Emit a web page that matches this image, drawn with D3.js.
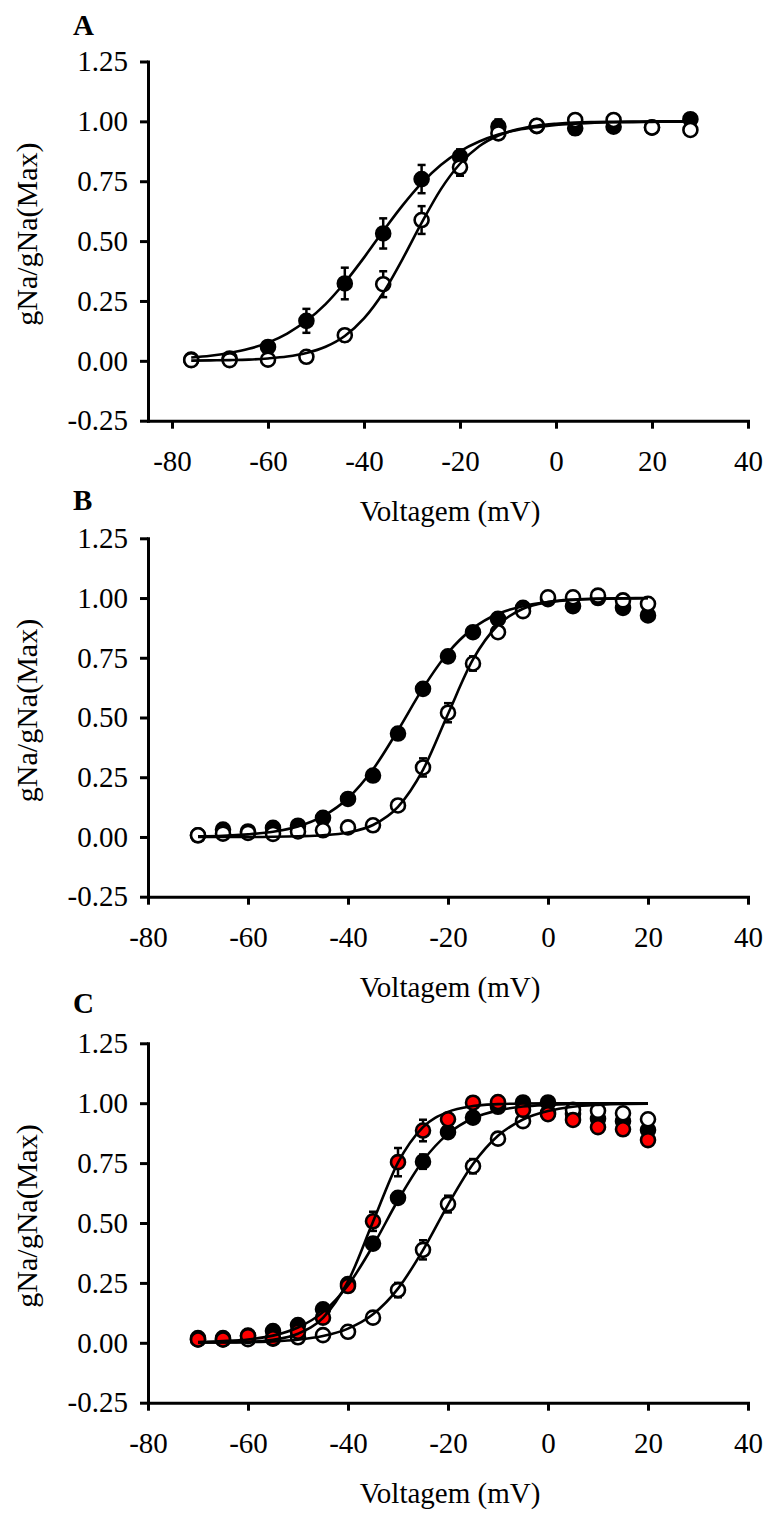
<!DOCTYPE html>
<html>
<head>
<meta charset="utf-8">
<script src="https://cdn.jsdelivr.net/npm/d3@7"></script>
<style>
  body { margin: 0; background: #fff; }
  svg { display: block; }
  .axis text { font-family: "Liberation Serif", "Times New Roman", serif; font-size: 29px; fill: #000; }
  .axis path, .axis line { stroke: #000; stroke-width: 3; }
  .axis path { stroke-linecap: square; }
  .lbl { font-family: "Liberation Serif", "Times New Roman", serif; fill: #000; }
</style>
</head>
<body>
<svg id="chart" width="767" height="1513"></svg>
<script>
// ---- data ----
var yTicks = [-0.25, 0, 0.25, 0.5, 0.75, 1, 1.25];
var xTicks = [-80, -60, -40, -20, 0, 20, 40];

// panel A (8 mV steps)
var voltA = [-76, -68, -60, -52, -44, -36, -28, -20, -12, -4, 4, 12, 20, 28];
var aFilled    = [0.005, 0.010, 0.058, 0.167, 0.323, 0.532, 0.759, 0.853, 0.978, 0.980, 0.971, 0.978, 0.975, 1.009];
var aFilledErr = [0, 0, 0.010, 0.050, 0.066, 0.063, 0.059, 0.030, 0.030, 0.020, 0.025, 0.020, 0.010, 0.010];
var aOpen      = [0.003, 0.003, 0.005, 0.017, 0.107, 0.320, 0.588, 0.808, 0.950, 0.982, 1.006, 1.006, 0.974, 0.964];
var aOpenErr   = [0, 0, 0, 0.010, 0.025, 0.054, 0.058, 0.035, 0.020, 0.020, 0.010, 0.010, 0.005, 0.005];

// fitted curves, panel A
var fitVoltA = [-76, -72, -68, -64, -60, -56, -52, -48, -44, -40, -36, -32, -28, -24, -20, -16, -12, -8, -4, 0, 4, 8, 12, 16, 20, 24, 28];
var fitAFilled = [0.014, 0.021, 0.033, 0.050, 0.076, 0.114, 0.167, 0.237, 0.327, 0.431, 0.542, 0.648, 0.742, 0.818, 0.875, 0.916, 0.945, 0.964, 0.976, 0.985, 0.990, 0.994, 0.996, 0.997, 0.998, 0.999, 0.999];
var fitAOpen   = [0.001, 0.002, 0.003, 0.005, 0.010, 0.018, 0.033, 0.059, 0.104, 0.177, 0.284, 0.424, 0.576, 0.716, 0.823, 0.896, 0.941, 0.967, 0.982, 0.990, 0.995, 0.997, 0.998, 0.999, 1.000, 1.000, 1.000];

// panels B and C (5 mV steps)
var voltBC = [-70, -65, -60, -55, -50, -45, -40, -35, -30, -25, -20, -15, -10, -5, 0, 5, 10, 15, 20];
var bFilled    = [0.007, 0.031, 0.023, 0.038, 0.047, 0.080, 0.159, 0.257, 0.433, 0.620, 0.756, 0.857, 0.913, 0.959, 0.995, 0.966, 1.000, 0.959, 0.927];
var bFilledErr = [0, 0, 0, 0, 0, 0.010, 0.010, 0.010, 0.015, 0.015, 0.015, 0.015, 0.010, 0.010, 0.010, 0.020, 0.010, 0.010, 0.010];
var bOpen      = [0.007, 0.014, 0.017, 0.013, 0.023, 0.028, 0.040, 0.049, 0.132, 0.291, 0.520, 0.726, 0.857, 0.945, 1.003, 1.003, 1.010, 0.990, 0.976];
var bOpenErr   = [0, 0, 0, 0, 0, 0, 0, 0, 0.010, 0.038, 0.040, 0.030, 0.015, 0.010, 0.010, 0.010, 0.005, 0.010, 0.005];

var cFilled    = [0.020, 0.020, 0.030, 0.049, 0.074, 0.140, 0.245, 0.414, 0.605, 0.756, 0.879, 0.940, 0.985, 1.003, 1.003, 0.955, 0.935, 0.925, 0.888];
var cFilledErr = [0, 0, 0, 0, 0.010, 0.015, 0.015, 0.020, 0.015, 0.030, 0.015, 0.010, 0.010, 0.010, 0.010, 0.010, 0.010, 0.010, 0.010];
var cOpen      = [0.014, 0.014, 0.015, 0.017, 0.023, 0.032, 0.046, 0.105, 0.220, 0.388, 0.579, 0.737, 0.852, 0.925, 0.960, 0.972, 0.968, 0.958, 0.933];
var cOpenErr   = [0, 0, 0, 0, 0, 0, 0.010, 0.010, 0.030, 0.040, 0.035, 0.030, 0.010, 0.010, 0.010, 0.010, 0.010, 0.010, 0.010];
var cRed       = [0.014, 0.014, 0.028, 0.019, 0.046, 0.105, 0.237, 0.507, 0.754, 0.886, 0.933, 1.002, 1.005, 0.972, 0.954, 0.930, 0.900, 0.891, 0.846];
var cRedErr    = [0, 0, 0, 0, 0, 0.010, 0.020, 0.040, 0.059, 0.045, 0.020, 0.010, 0.010, 0.010, 0.010, 0.010, 0.010, 0.010, 0.010];

// fitted curves, panels B and C
var fitVoltBC = [-70, -65, -60, -55, -50, -45, -40, -35, -30, -25, -20, -15, -10, -5, 0, 5, 10, 15, 20];
var fitBFilled = [0.003, 0.005, 0.011, 0.022, 0.044, 0.087, 0.162, 0.283, 0.447, 0.623, 0.771, 0.873, 0.934, 0.966, 0.983, 0.992, 0.996, 0.998, 0.999];
var fitBOpen   = [0.000, 0.000, 0.000, 0.001, 0.003, 0.007, 0.019, 0.050, 0.126, 0.281, 0.515, 0.743, 0.887, 0.955, 0.983, 0.994, 0.998, 0.999, 1.000];
var fitCFilled = [0.003, 0.007, 0.014, 0.030, 0.064, 0.128, 0.240, 0.405, 0.595, 0.760, 0.872, 0.937, 0.970, 0.986, 0.993, 0.997, 0.999, 0.999, 1.000];
var fitCOpen   = [0.001, 0.001, 0.003, 0.006, 0.013, 0.028, 0.059, 0.119, 0.226, 0.387, 0.576, 0.746, 0.864, 0.932, 0.967, 0.985, 0.993, 0.997, 0.998];
var fitCRed    = [0.001, 0.002, 0.004, 0.013, 0.038, 0.104, 0.256, 0.505, 0.752, 0.900, 0.964, 0.988, 0.996, 0.999, 1.000, 1.000, 1.000, 1.000, 1.000];

var svg = d3.select("#chart");

function drawPanel(p) {
  var g = svg.append("g");
  var x = d3.scaleLinear().domain(p.xDomain).range([148, 748]);
  var y = d3.scaleLinear().domain([-0.25, 1.25]).range([p.bottom, p.top]);

  // y axis
  g.append("g")
      .attr("class", "axis")
      .attr("transform", "translate(148,0)")
      .call(d3.axisLeft(y).tickValues(yTicks).tickFormat(d => d.toFixed(2))
        .tickSize(8).tickSizeOuter(0).tickPadding(12));

  // x axis
  g.append("g")
      .attr("class", "axis")
      .attr("transform", "translate(0," + p.bottom + ")")
      .call(d3.axisBottom(x).tickValues(xTicks).tickFormat(d => String(d))
        .tickSize(8).tickSizeOuter(0).tickPadding(22));

  // axis titles + panel letter
  g.append("text")
      .attr("class", "lbl")
      .attr("x", 450)
      .attr("y", p.bottom + 100)
      .attr("text-anchor", "middle")
      .attr("font-size", 29)
      .text("Voltagem (mV)");

  g.append("text")
      .attr("class", "lbl")
      .attr("transform", "translate(37," + ((p.top + p.bottom) / 2 - 7) + ") rotate(-90)")
      .attr("text-anchor", "middle")
      .attr("font-size", 30)
      .text("gNa/gNa(Max)");

  g.append("text")
      .attr("class", "lbl")
      .attr("x", 73)
      .attr("y", p.letterY)
      .attr("font-size", 29)
      .attr("font-weight", "bold")
      .text(p.letter);

  // points: error bars then markers, series by series
  p.series.forEach(function(s) {
    var pts = p.volts.map((v, i) => ({v: v, g: s.values[i], e: s.err[i]}));
    var eb = g.append("g").attr("stroke", "#000").attr("stroke-width", 2.5);
    pts.filter(d => d.e > 0).forEach(function(d) {
      var cx = x(d.v), y0 = y(d.g - d.e), y1 = y(d.g + d.e);
      eb.append("line").attr("x1", cx).attr("x2", cx).attr("y1", y0).attr("y2", y1);
      eb.append("line").attr("x1", cx - 4).attr("x2", cx + 4).attr("y1", y0).attr("y2", y0);
      eb.append("line").attr("x1", cx - 4).attr("x2", cx + 4).attr("y1", y1).attr("y2", y1);
    });
    g.append("g").selectAll("circle")
      .data(pts)
      .enter().append("circle")
        .attr("cx", d => x(d.v))
        .attr("cy", d => y(d.g))
        .attr("r", 7)
        .attr("fill", s.fill)
        .attr("stroke", "#000")
        .attr("stroke-width", 2.6);
  });

  // fitted curves on top
  var line = d3.line()
      .x(d => x(d[0]))
      .y(d => y(d[1]))
      .curve(d3.curveMonotoneX);
  p.fits.forEach(function(f) {
    g.append("path")
        .datum(p.fitVolts.map((v, i) => [v, f[i]]))
        .attr("fill", "none")
        .attr("stroke", "#000")
        .attr("stroke-width", 2.6)
        .attr("d", line);
  });
}

drawPanel({
  letter: "A", letterY: 35, top: 61.5, bottom: 420.7, xDomain: [-85, 40],
  volts: voltA,
  series: [
    {values: aFilled, err: aFilledErr, fill: "#000"},
    {values: aOpen, err: aOpenErr, fill: "#fff"}
  ],
  fitVolts: fitVoltA, fits: [fitAFilled, fitAOpen]
});

drawPanel({
  letter: "B", letterY: 510, top: 538.3, bottom: 896.7, xDomain: [-80, 40],
  volts: voltBC,
  series: [
    {values: bFilled, err: bFilledErr, fill: "#000"},
    {values: bOpen, err: bOpenErr, fill: "#fff"}
  ],
  fitVolts: fitVoltBC, fits: [fitBFilled, fitBOpen]
});

drawPanel({
  letter: "C", letterY: 1013, top: 1043.3, bottom: 1402.7, xDomain: [-80, 40],
  volts: voltBC,
  series: [
    {values: cFilled, err: cFilledErr, fill: "#000"},
    {values: cOpen, err: cOpenErr, fill: "#fff"},
    {values: cRed, err: cRedErr, fill: "#ff0000"}
  ],
  fitVolts: fitVoltBC, fits: [fitCFilled, fitCOpen, fitCRed]
});
</script>
</body>
</html>
